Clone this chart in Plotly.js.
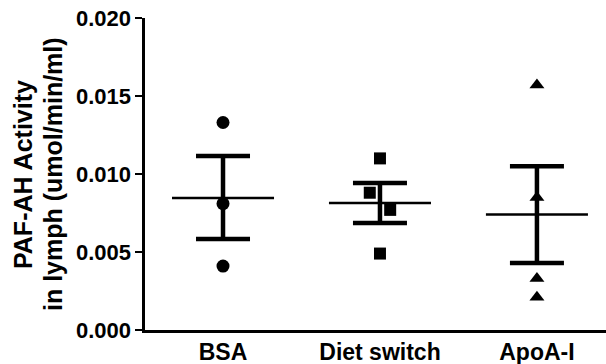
<!DOCTYPE html>
<html>
<head>
<meta charset="utf-8">
<script src="https://cdn.plot.ly/plotly-3.0.1.min.js"></script>
<style>html,body{margin:0;padding:0;background:#fff;}#chart{width:606px;height:364px;}</style>
</head>
<body>
<div id="chart"></div>
<script>
// Data
var categories = ["BSA", "Diet switch", "ApoA-I"];
var bsaValues = [0.0133, 0.0081, 0.0041];
var dietValues = [0.0110, 0.0088, 0.0077, 0.0049];
var apoaValues = [0.0157, 0.0085, 0.0033, 0.0021];
var groupMeans = [0.00846, 0.00814, 0.0074];
var groupUpper = [0.01115, 0.00942, 0.0105];
var groupLower = [0.00583, 0.00686, 0.0043];
var yTickVals = [0, 0.005, 0.010, 0.015, 0.020];
var yTickText = ["0.000", "0.005", "0.010", "0.015", "0.020"];
var yTitleLines = ["PAF-AH Activity", "in lymph (umol/min/ml)"];

var FONT = "Liberation Sans, Arial, sans-serif";
var groups = [bsaValues, dietValues, apoaValues];
var symbols = ["circle", "square", "triangle-up"];
var sizes = [13, 12, 13];
// horizontal scatter offsets (layout only)
var jitter = [[0, 0, 0], [0, -0.065, 0.065, 0], [0, 0, 0, 0]];

var traces = [];
groups.forEach(function (vals, gi) {
  traces.push({
    type: "scatter", mode: "markers",
    x: vals.map(function (v, k) { return gi + jitter[gi][k]; }),
    y: vals,
    marker: {symbol: symbols[gi], size: sizes[gi], color: "#000"},
    hoverinfo: "y", showlegend: false, cliponaxis: false
  });
});

// mean lines
var mx = [], my = [];
groupMeans.forEach(function (m, i) {
  mx.push(i - 0.325, i + 0.325, null);
  my.push(m, m, null);
});
traces.push({
  type: "scatter", mode: "lines", x: mx, y: my,
  line: {color: "#000", width: 2.6}, hoverinfo: "skip", showlegend: false
});

// SEM error bars
traces.push({
  type: "scatter", mode: "markers",
  x: [0, 1, 2], y: groupMeans,
  marker: {size: 1, color: "rgba(0,0,0,0)"},
  error_y: {
    type: "data", symmetric: false,
    array: groupUpper.map(function (u, i) { return u - groupMeans[i]; }),
    arrayminus: groupLower.map(function (l, i) { return groupMeans[i] - l; }),
    color: "#000", thickness: 4.5, width: 27
  },
  hoverinfo: "skip", showlegend: false
});

var plotW = 606 - 145;
var layout = {
  width: 606, height: 364,
  margin: {l: 145, r: 0, t: 18, b: 34, pad: 0},
  paper_bgcolor: "#fff", plot_bgcolor: "#fff",
  font: {family: FONT, color: "#000"},
  showlegend: false,
  xaxis: {
    range: [-0.497, 2.44],
    tickvals: [0, 1, 2], ticktext: categories,
    ticks: "", showgrid: false, zeroline: false,
    showline: true, linecolor: "#000", linewidth: 2.6,
    tickfont: {family: FONT, size: 23, weight: "bold", color: "#000"},
    fixedrange: true
  },
  yaxis: {
    range: [0, 0.020],
    tickvals: yTickVals, ticktext: yTickText,
    ticks: "outside", ticklen: 7, tickwidth: 2.6, tickcolor: "#000",
    showgrid: false, zeroline: false,
    showline: true, linecolor: "#000", linewidth: 2.6,
    tickfont: {family: FONT, size: 22, weight: "bold", color: "#000"},
    automargin: false,
    fixedrange: true
  },
  annotations: yTitleLines.map(function (t, i) {
    return {
      text: "<b>" + t + "</b>", showarrow: false, textangle: -90,
      xref: "paper", yref: "paper",
      x: ([23, 53][i] - 145) / plotW, y: 0.5,
      xanchor: "center", yanchor: "middle",
      font: {family: FONT, size: 25, color: "#000"}
    };
  })
};

Plotly.newPlot("chart", traces, layout, {displayModeBar: false, staticPlot: true});
</script>
</body>
</html>
